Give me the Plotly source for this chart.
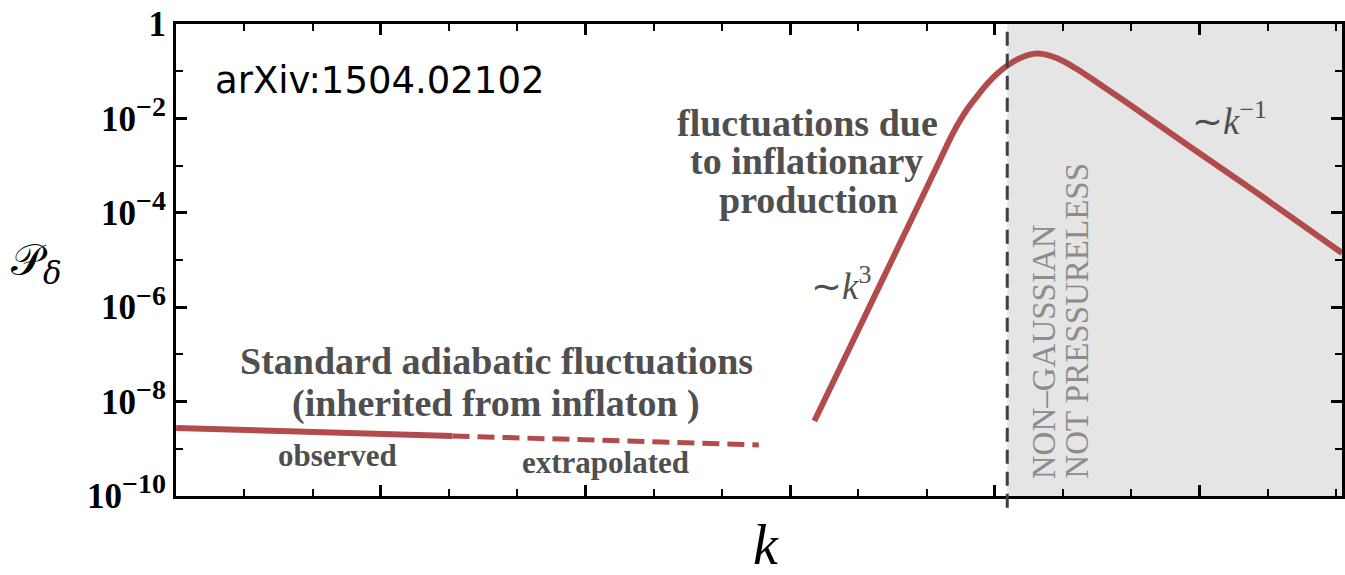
import plotly.graph_objects as go

# ---- data: log10(k) positions and power spectrum values ----
obs_log10_k = [0.0, 4.05]
obs_P = [2.76e-9, 1.87e-9]

extrap_log10_k = [4.05, 8.54]
extrap_P = [1.87e-9, 1.20e-9]

infl_log10_k = [9.354, 9.997, 10.582, 11.166, 11.312, 11.458, 11.605, 11.751,
                11.897, 12.043, 12.189, 12.336, 12.482, 12.628, 12.774, 12.920,
                13.066, 13.212, 13.402, 13.899, 14.864, 15.843, 17.086]
infl_P = [3.88e-9, 3.29e-7, 1.88e-5, 1.08e-3, 3.01e-3, 7.60e-3, 1.66e-2, 3.13e-2,
          5.62e-2, 9.16e-2, 0.135, 0.181, 0.220, 0.237, 0.220, 0.186,
          0.146, 0.109, 0.0718, 0.0234, 2.48e-3, 2.62e-4, 1.41e-5]

boundary_log10_k = 12.18

y_tick_vals = [1e-10, 1e-8, 1e-6, 1e-4, 1e-2, 1]
y_exponents = ["−10", "−8", "−6", "−4", "−2", None]
y_minor_vals = [1e-9, 1e-7, 1e-5, 1e-3, 1e-1]
x_major_vals = [0, 3, 6, 9, 12, 15]
x_minor_vals = [1, 2, 4, 5, 7, 8, 10, 11, 13, 14, 16, 17]

y_tick_text = ["1" if e is None else
               f"10<sup><span style='font-size:28px'>{e}</span></sup>"
               for e in y_exponents]

# ---- canvas geometry ----
W, H = 1345, 575
ML, MR, MT, MB = 176, 0, 24, 79
PW, PH = W - ML - MR, H - MT - MB

RED = "#b24c4c"
TXT = "#4f4f4f"
SERIF = "Liberation Serif"


def paper(xp, yp):
    """canvas pixel -> paper fraction"""
    return (xp - ML) / PW, (H - MB - yp) / PH


fig = go.Figure()

fig.add_trace(go.Scatter(x=obs_log10_k, y=obs_P, mode="lines",
                         line=dict(color=RED, width=6), showlegend=False))
fig.add_trace(go.Scatter(x=extrap_log10_k, y=extrap_P, mode="lines",
                         line=dict(color=RED, width=5, dash="17px,8px"),
                         showlegend=False))
fig.add_trace(go.Scatter(x=infl_log10_k, y=infl_P, mode="lines",
                         line=dict(color=RED, width=6, shape="spline", smoothing=0.6),
                         showlegend=False))

# shaded non-linear region and its dashed boundary
fig.add_shape(type="rect", xref="x", yref="paper", x0=boundary_log10_k, x1=17.2,
              y0=0, y1=1, fillcolor="#e5e5e5", line_width=0, layer="below")
fig.add_shape(type="line", xref="x", yref="paper", x0=boundary_log10_k, x1=boundary_log10_k,
              y0=-0.025, y1=1, line=dict(color="#3f3f3f", width=3, dash="14px,8px"))


def label(text, xp, yp, size, color=TXT, family=SERIF, weight="bold", angle=0,
          xanchor="center", yanchor="middle"):
    px_, py_ = paper(xp, yp)
    fig.add_annotation(text=text, x=px_, y=py_, xref="paper", yref="paper",
                       showarrow=False, textangle=angle, xanchor=xanchor, yanchor=yanchor,
                       font=dict(family=family, size=size, color=color, weight=weight))


label("arXiv:1504.02102", 380, 80, 37, color="black", family="DejaVu Sans", weight="normal")

label("fluctuations due", 809, 123, 38)
label("to inflationary", 808, 161, 38)
label("production", 810, 200, 38)

label("Standard adiabatic fluctuations", 497, 361, 38)
label("(inherited from inflaton )", 497, 403, 38)
label("observed", 338, 455, 31)
label("extrapolated", 607, 462, 31)

label("∼<i>k</i><sup>3</sup>", 843, 283, 37, weight="normal")
label("∼<i>k</i><sup>−1</sup>", 1232, 118, 37, weight="normal")

label("NON–GAUSSIAN", 1046, 481, 33, color="#8c8c8c", weight="normal", angle=-90,
      yanchor="bottom")
label("NOT PRESSURELESS", 1079, 481, 33, color="#8c8c8c", weight="normal", angle=-90,
      yanchor="bottom")

label("<i>k</i>", 768, 545, 56, color="black", weight="normal")
label("𝒫<sub><i>δ</i></sub>", 36, 262, 44, color="black", family="DejaVu Serif",
      weight="normal")

axis_common = dict(showline=True, linecolor="black", linewidth=3, mirror="ticks",
                   ticks="inside", tickcolor="black", showgrid=False, zeroline=False)

fig.update_xaxes(range=[-0.002, 17.086], tickmode="array", tickvals=x_major_vals,
                 ticklen=11, tickwidth=3, showticklabels=False,
                 minor=dict(tickmode="array", tickvals=x_minor_vals, ticks="inside",
                            ticklen=7, tickwidth=2, tickcolor="black", showgrid=False),
                 **axis_common)
fig.update_yaxes(type="log", range=[-10.002, 0.002], tickmode="array",
                 tickvals=y_tick_vals, ticktext=y_tick_text,
                 ticklen=11, tickwidth=3,
                 tickfont=dict(family=SERIF, size=35, color="black", weight="bold"),
                 minor=dict(tickmode="array", tickvals=y_minor_vals, ticks="inside",
                            ticklen=7, tickwidth=2, tickcolor="black", showgrid=False),
                 **axis_common)

fig.update_layout(width=W, height=H, margin=dict(l=ML, r=MR, t=MT, b=MB),
                  plot_bgcolor="white", paper_bgcolor="white", showlegend=False)

fig.write_html("out.html")
